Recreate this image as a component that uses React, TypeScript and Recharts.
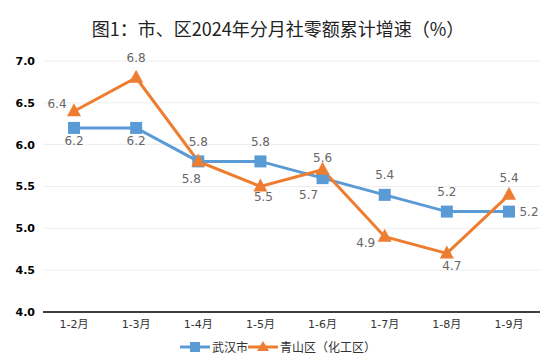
import { CartesianGrid, LabelList, Line, LineChart, XAxis, YAxis } from 'recharts';

const MONTHS = ['1-2月', '1-3月', '1-4月', '1-5月', '1-6月', '1-7月', '1-8月', '1-9月'];
const WUHAN = [6.2, 6.2, 5.8, 5.8, 5.6, 5.4, 5.2, 5.2];
const QINGSHAN = [6.4, 6.8, 5.8, 5.5, 5.7, 4.9, 4.7, 5.4];
const Y_TICKS = [4.0, 4.5, 5.0, 5.5, 6.0, 6.5, 7.0];

const BLUE = '#5B9BD5';
const ORANGE = '#ED7D31';
const FONT = '"DejaVu Sans", "Noto Sans CJK SC", sans-serif';

// where each data label sits relative to its point
const BLUE_LABEL_POS = [[0, 13], [0, 13], [0, -19], [0, -19], [0, -20], [0, -20], [0, -20], [20, 0]];
const ORANGE_LABEL_POS = [[-17, -7], [0, -20], [-7, 18], [3, 10], [-14, 25], [-19, 6], [5, 13], [0, -17]];

const data = MONTHS.map((m, i) => ({ month: m, wuhan: WUHAN[i], qingshan: QINGSHAN[i] }));

const makeLabel = (pos: number[][]) => (p: any) => {
  const [dx, dy] = pos[p.index] || [0, 0];
  return (
    <text
      x={p.x + dx}
      y={p.y + dy}
      textAnchor="middle"
      dominantBaseline="central"
      fontSize={12}
      fill="#666"
      fontFamily={FONT}
    >
      {Number(p.value).toFixed(1)}
    </text>
  );
};

const SquareDot = (p: any) => (
  <rect key={`s${p.index}`} x={p.cx - 6} y={p.cy - 6} width={12} height={12} fill={BLUE} />
);

const TriDot = (p: any) => (
  <path
    key={`t${p.index}`}
    d={`M${p.cx},${p.cy - 8} L${p.cx + 7},${p.cy + 5} L${p.cx - 7},${p.cy + 5} Z`}
    fill={ORANGE}
  />
);

export default function App() {
  return (
    <div style={{ position: 'absolute', left: 0, top: 0, width: 556, height: 362, background: '#fff' }}>
      <div
        style={{
          position: 'absolute',
          top: 15,
          left: 0,
          width: 556,
          textAlign: 'center',
          fontFamily: '"Noto Sans CJK SC", sans-serif',
          fontSize: 18,
          color: '#222',
          lineHeight: '26px',
        }}
      >
        图1：市、区2024年分月社零额累计增速（%）
      </div>
      <LineChart width={556} height={362} data={data} margin={{ top: 61, right: 16, left: 0, bottom: 20 }}>
        <CartesianGrid stroke="#eeeeee" vertical={false} />
        <XAxis
          dataKey="month"
          padding={{ left: 31, right: 31 }}
          axisLine={{ stroke: '#000', strokeWidth: 1.5 }}
          tickLine={false}
          height={30}
          tick={{ fontSize: 11, fill: '#333', fontFamily: FONT }}
          interval={0}
        />
        <YAxis
          width={43}
          domain={[4, 7]}
          ticks={Y_TICKS}
          tickFormatter={(v) => Number(v).toFixed(1)}
          axisLine={false}
          tickLine={false}
          tick={{ fontSize: 11, fill: '#000', fontWeight: 'bold', fontFamily: FONT }}
        />
        <Line
          dataKey="wuhan"
          name="武汉市"
          stroke={BLUE}
          strokeWidth={3}
          dot={SquareDot}
          activeDot={false}
          isAnimationActive={false}
        >
          <LabelList dataKey="wuhan" content={makeLabel(BLUE_LABEL_POS)} />
        </Line>
        <Line
          dataKey="qingshan"
          name="青山区（化工区）"
          stroke={ORANGE}
          strokeWidth={3}
          dot={TriDot}
          activeDot={false}
          isAnimationActive={false}
        >
          <LabelList dataKey="qingshan" content={makeLabel(ORANGE_LABEL_POS)} />
        </Line>
      </LineChart>
      <div
        style={{
          position: 'absolute',
          top: 338,
          left: 0,
          width: 556,
          display: 'flex',
          justifyContent: 'center',
          alignItems: 'center',
          fontFamily: '"Noto Sans CJK SC", sans-serif',
          fontSize: 12,
          color: '#333',
        }}
      >
        <svg width={30} height={14}>
          <line x1={0} y1={7} x2={30} y2={7} stroke={BLUE} strokeWidth={3} />
          <rect x={10} y={2} width={10} height={10} fill={BLUE} />
        </svg>
        <span style={{ marginLeft: 2 }}>武汉市</span>
        <svg width={30} height={14}>
          <line x1={0} y1={7} x2={30} y2={7} stroke={ORANGE} strokeWidth={3} />
          <path d="M15,1 L21,11 L9,11 Z" fill={ORANGE} />
        </svg>
        <span style={{ marginLeft: 2 }}>青山区（化工区）</span>
      </div>
    </div>
  );
}
